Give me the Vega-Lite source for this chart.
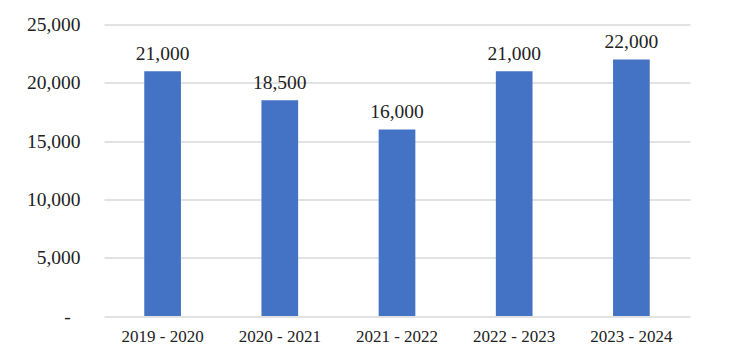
{
  "$schema": "https://vega.github.io/schema/vega-lite/v6.json",
  "width": 586,
  "height": 291.5,
  "autosize": {"type": "none"},
  "padding": {"left": 104, "top": 24.5, "right": 50, "bottom": 41.5},
  "background": "white",
  "config": {"view": {"stroke": null}, "font": "Liberation Serif"},
  "data": {"values": [
    {"year": "2019 - 2020", "value": 21000},
    {"year": "2020 - 2021", "value": 18500},
    {"year": "2021 - 2022", "value": 16000},
    {"year": "2022 - 2023", "value": 21000},
    {"year": "2023 - 2024", "value": 22000}
  ]},
  "encoding": {
    "x": {"field": "year", "type": "nominal", "sort": null,
      "scale": {"paddingInner": 0.687, "paddingOuter": 0.3435},
      "axis": {"title": null, "labelAngle": 0, "domain": false, "ticks": false, "labelPadding": 12,
        "labelFont": "Liberation Serif", "labelFontSize": 17, "labelColor": "#222"}},
    "y": {"field": "value", "type": "quantitative",
      "scale": {"domain": [0, 25000], "nice": false},
      "axis": {"title": null, "values": [0, 5000, 10000, 15000, 20000, 25000], "domain": false, "ticks": false, "tickSize": 0,
        "labelPadding": 24, "labelFont": "Liberation Serif", "labelFontSize": 19.5, "labelColor": "#222",
        "labelExpr": "datum.value == 0 ? '-\u2002\u200b' : format(datum.value, ',')",
        "gridColor": "#d9d9d9", "gridWidth": 1.5}}
  },
  "layer": [
    {"mark": {"type": "bar", "color": "#4472C4"}},
    {"mark": {"type": "text", "baseline": "alphabetic", "dy": -11, "font": "Liberation Serif", "fontSize": 19.5, "color": "#222"},
      "encoding": {"text": {"field": "value", "type": "quantitative", "format": ","}}}
  ]
}
